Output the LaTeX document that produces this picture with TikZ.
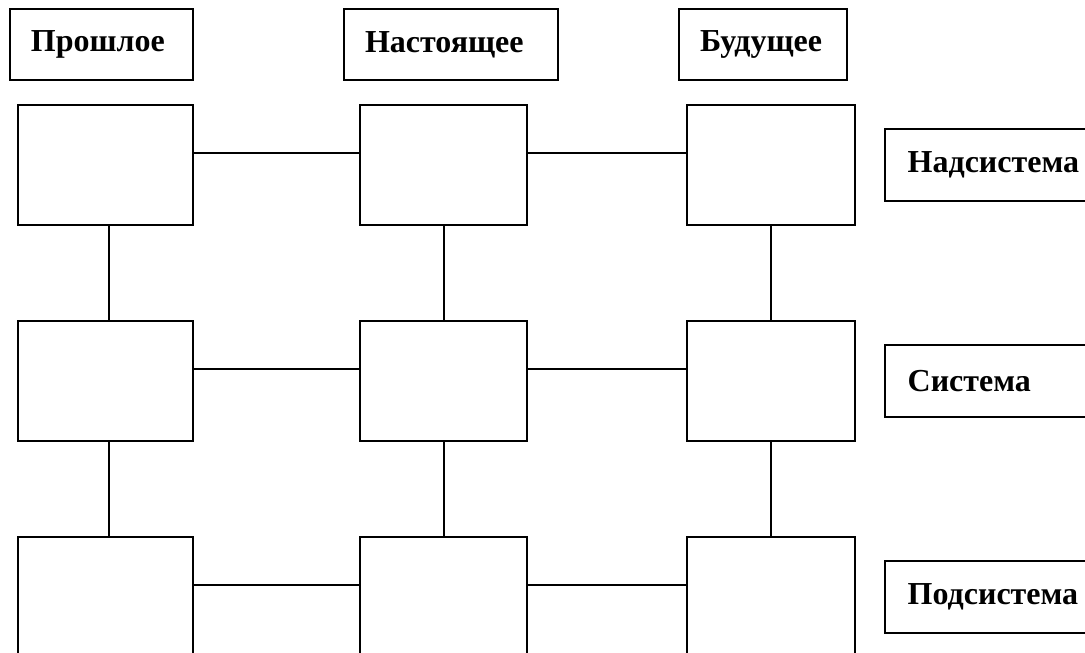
\documentclass[tikz,border=0pt]{standalone}
\usepackage{fontspec}
\setmainfont{Liberation Serif}
\usetikzlibrary{positioning}

\tikzset{
  cell/.style={draw,line width=1.5pt,minimum width=#1,minimum height=90pt},
  head/.style={draw,line width=1.5pt,minimum width=#1,minimum height=53.25pt,
    inner xsep=15.75pt,text width=#1-31.5pt,align=left,
    font=\fontsize{24}{28}\selectfont\bfseries},
  level/.style={draw,line width=1.5pt,anchor=west,minimum height=54pt,
    inner xsep=17pt,text width=200pt,align=left,
    font=\fontsize{24}{28}\selectfont\bfseries},
  link/.style={line width=1.5pt}
}

\begin{document}
\begin{tikzpicture}[x=0.75pt,y=-0.75pt]
   \clip (0,0) rectangle (1085,653);
   \node[head=137.25pt] (past)   at (101.5,44.5) {Прошлое};
   \node[head=160.5pt]  (now)    at (451,44.5)   {Настоящее};
   \node[head=126pt]    (future) at (763,44.5)   {Будущее};

   \node[cell=131.25pt] (p_1) at (105.5,165) {};
   \node[cell=131.25pt] (p_2) at (105.5,381) {};
   \node[cell=131.25pt] (p_3) at (105.5,597) {};
   \node[cell=125.25pt] (n_1) at (443.5,165) {};
   \node[cell=125.25pt] (n_2) at (443.5,381) {};
   \node[cell=125.25pt] (n_3) at (443.5,597) {};
   \node[cell=126pt]    (f_1) at (770.5,165) {};
   \node[cell=126pt]    (f_2) at (770.5,381) {};
   \node[cell=126pt]    (f_3) at (770.5,597) {};

   \node[level] (super) at (884,165) {Надсистема};
   \node[level] (sys)   at (884,381) {Система};
   \node[level] (sub)   at (884,597) {Подсистема};

   % vertical links
   \draw[link] ([xshift=2.25pt]p_1.south) -- ([xshift=2.25pt]p_2.north);
   \draw[link] ([xshift=2.25pt]p_2.south) -- ([xshift=2.25pt]p_3.north);
   \draw[link] (n_1) -- (n_2) (n_2) -- (n_3);
   \draw[link] (f_1) -- (f_2) (f_2) -- (f_3);
   % horizontal links
   \draw[link] ([yshift=9pt]p_1.east) -- ([yshift=9pt]n_1.west);
   \draw[link] ([yshift=9pt]n_1.east) -- ([yshift=9pt]f_1.west);
   \draw[link] ([yshift=9pt]p_2.east) -- ([yshift=9pt]n_2.west);
   \draw[link] ([yshift=9pt]n_2.east) -- ([yshift=9pt]f_2.west);
   \draw[link] ([yshift=9pt]p_3.east) -- ([yshift=9pt]n_3.west);
   \draw[link] ([yshift=9pt]n_3.east) -- ([yshift=9pt]f_3.west);
\end{tikzpicture}
\end{document}
